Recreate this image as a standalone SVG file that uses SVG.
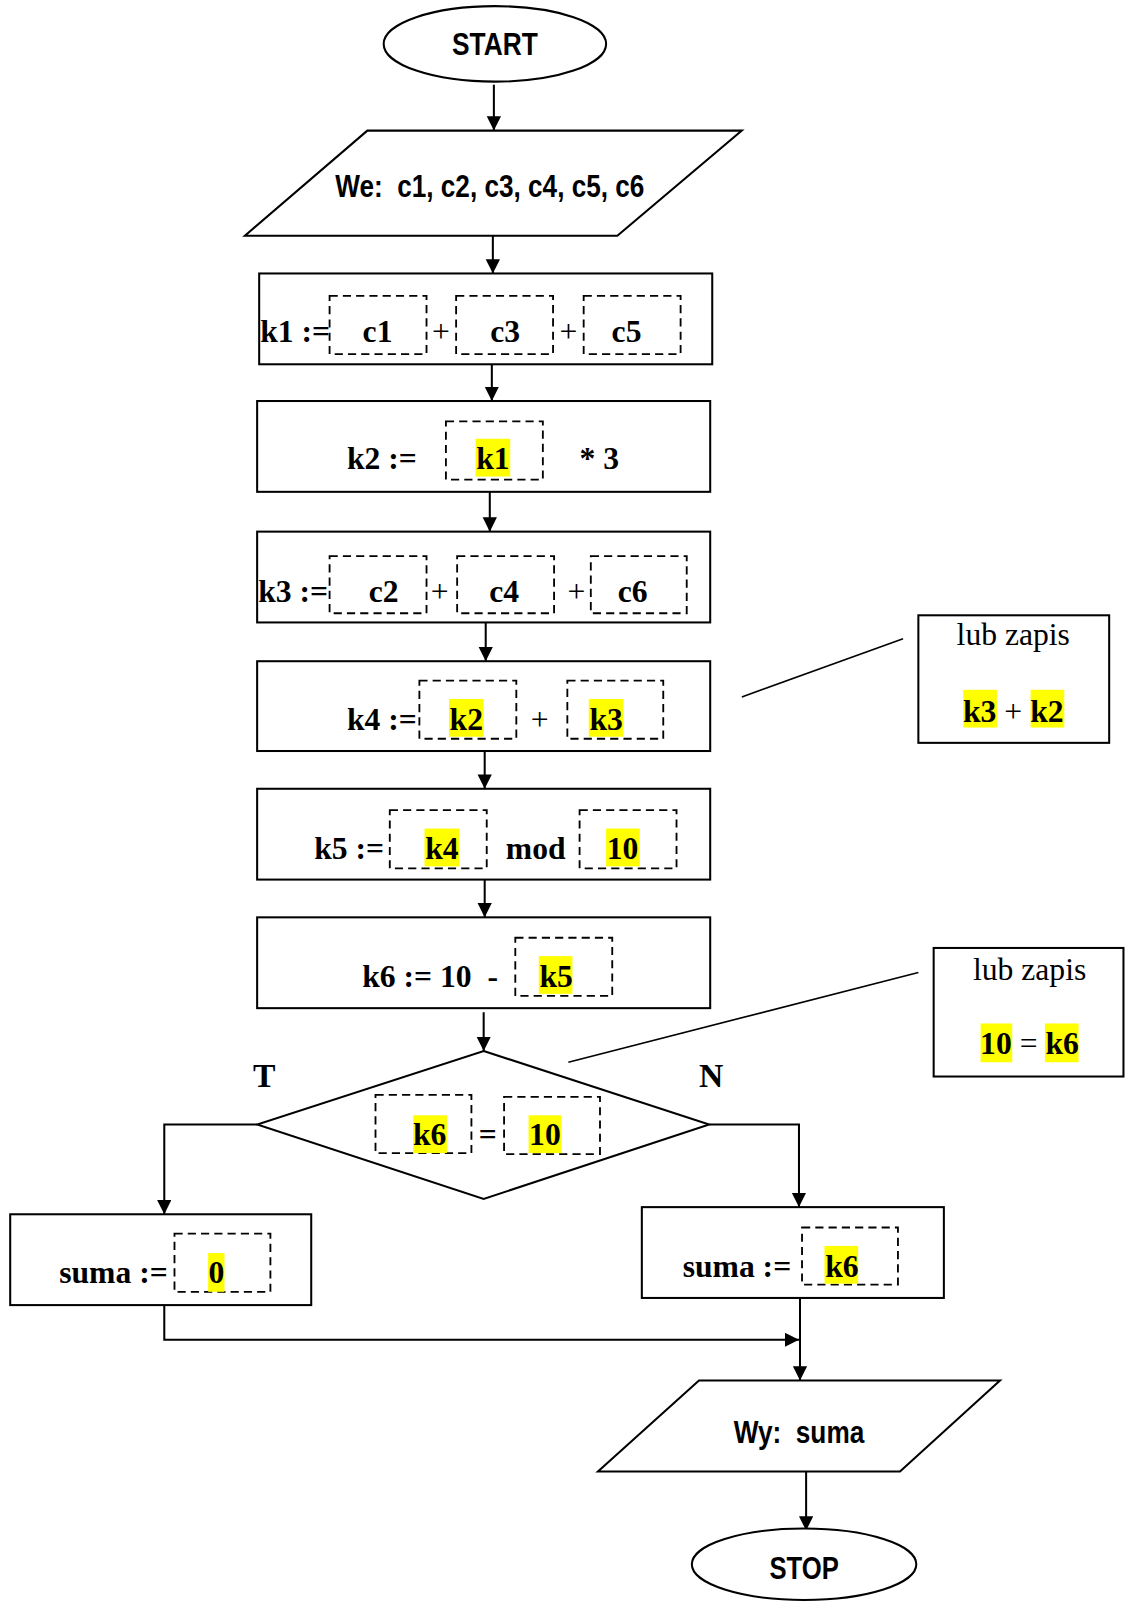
<svg xmlns="http://www.w3.org/2000/svg" width="1125" height="1602" viewBox="0 0 1125 1602">
<style>
.box{fill:#fff;stroke:#000;stroke-width:2}
.dash{fill:none;stroke:#000;stroke-width:1.8;stroke-dasharray:8,5}
.hl{fill:#ffff00}
.t{font-family:"Liberation Serif","Times New Roman",serif;font-weight:bold;font-size:31px;fill:#000}
.r{font-family:"Liberation Serif","Times New Roman",serif;font-size:31px;fill:#000}
.a{font-family:"Liberation Sans Narrow","Arial Narrow","Liberation Sans",sans-serif;font-weight:bold;font-size:30px;fill:#000}
.c{fill:none;stroke:#000;stroke-width:2}
.ln{fill:none;stroke:#000;stroke-width:1.6}
</style>
<defs>
<marker id="ar" markerUnits="userSpaceOnUse" markerWidth="14" markerHeight="16" refX="14" refY="7" orient="auto">
<path d="M0,0 L14,7 L0,14 Z" fill="#000"/>
</marker>
</defs>
<rect width="1125" height="1602" fill="#fff"/>
<g transform="scale(1.0204)">

<g id="connectors">
<line class="c" x1="484" y1="83" x2="484" y2="128" marker-end="url(#ar)"/>
<line class="c" x1="483" y1="231" x2="483" y2="268" marker-end="url(#ar)"/>
<line class="c" x1="482" y1="357" x2="482" y2="393" marker-end="url(#ar)"/>
<line class="c" x1="480" y1="482" x2="480" y2="521" marker-end="url(#ar)"/>
<line class="c" x1="476" y1="610" x2="476" y2="648" marker-end="url(#ar)"/>
<line class="c" x1="475" y1="736" x2="475" y2="773" marker-end="url(#ar)"/>
<line class="c" x1="475" y1="862" x2="475" y2="899" marker-end="url(#ar)"/>
<line class="c" x1="474" y1="992" x2="474" y2="1030" marker-end="url(#ar)"/>
<polyline class="c" points="252,1102 161,1102 161,1190" marker-end="url(#ar)"/>
<polyline class="c" points="695,1102 783,1102 783,1183" marker-end="url(#ar)"/>
<polyline class="c" points="161,1279 161,1313 783,1313" marker-end="url(#ar)"/>
<line class="c" x1="784" y1="1272" x2="784" y2="1353" marker-end="url(#ar)"/>
<line class="c" x1="790" y1="1442" x2="790" y2="1500" marker-end="url(#ar)"/>
<line class="ln" x1="727" y1="683" x2="885" y2="626"/>
<line class="ln" x1="557" y1="1041" x2="900" y2="953"/>
</g>

<g id="start">
<ellipse class="box" cx="485" cy="43" rx="109" ry="37"/>
<text class="a" x="485" y="54" text-anchor="middle" textLength="84" lengthAdjust="spacingAndGlyphs">START</text>
</g>

<g id="input">
<polygon class="box" points="360,128 727,128 605,231 240,231"/>
<text class="a" x="480" y="193" text-anchor="middle" xml:space="preserve" textLength="303" lengthAdjust="spacingAndGlyphs">We:  c1, c2, c3, c4, c5, c6</text>
</g>

<g id="k1">
<rect class="box" x="254" y="268" width="444" height="89"/>
<rect class="dash" x="323" y="290" width="95" height="57"/>
<rect class="dash" x="447" y="290" width="95" height="57"/>
<rect class="dash" x="572" y="290" width="95" height="57"/>
<text class="t" x="255" y="335">k1 :=</text>
<text class="t" x="370" y="335" text-anchor="middle">c1</text>
<text class="r" x="432" y="335" text-anchor="middle">+</text>
<text class="t" x="495" y="335" text-anchor="middle">c3</text>
<text class="r" x="557" y="335" text-anchor="middle">+</text>
<text class="t" x="614" y="335" text-anchor="middle">c5</text>
</g>

<g id="k2">
<rect class="box" x="252" y="393" width="444" height="89"/>
<rect class="dash" x="437" y="413" width="95" height="57"/>
<text class="t" x="340" y="460">k2 :=</text>
<rect class="hl" x="466" y="430" width="34" height="37"/>
<text class="t" x="483" y="460" text-anchor="middle">k1</text>
<text class="t" x="568" y="460">* 3</text>
</g>

<g id="k3">
<rect class="box" x="252" y="521" width="444" height="89"/>
<rect class="dash" x="323" y="545" width="95" height="56"/>
<rect class="dash" x="448" y="545" width="95" height="56"/>
<rect class="dash" x="579" y="545" width="94" height="56"/>
<text class="t" x="253" y="590">k3 :=</text>
<text class="t" x="376" y="590" text-anchor="middle">c2</text>
<text class="r" x="431" y="590" text-anchor="middle">+</text>
<text class="t" x="494" y="590" text-anchor="middle">c4</text>
<text class="r" x="565" y="590" text-anchor="middle">+</text>
<text class="t" x="620" y="590" text-anchor="middle">c6</text>
</g>

<g id="k4">
<rect class="box" x="252" y="648" width="444" height="88"/>
<rect class="dash" x="411" y="667" width="95" height="57"/>
<rect class="dash" x="556" y="667" width="94" height="57"/>
<text class="t" x="340" y="715">k4 :=</text>
<rect class="hl" x="440" y="685" width="34" height="37"/>
<text class="t" x="457" y="715" text-anchor="middle">k2</text>
<text class="r" x="529" y="715" text-anchor="middle">+</text>
<rect class="hl" x="577" y="685" width="34" height="37"/>
<text class="t" x="594" y="715" text-anchor="middle">k3</text>
</g>

<g id="note1">
<rect class="box" x="900" y="603" width="187" height="125"/>
<text class="r" x="993" y="632" text-anchor="middle">lub zapis</text>
<rect class="hl" x="944" y="676" width="33" height="37"/>
<text class="t" x="960" y="708" text-anchor="middle">k3</text>
<text class="r" x="993" y="708" text-anchor="middle">+</text>
<rect class="hl" x="1010" y="676" width="33" height="37"/>
<text class="t" x="1026" y="708" text-anchor="middle">k2</text>
</g>

<g id="k5">
<rect class="box" x="252" y="773" width="444" height="89"/>
<rect class="dash" x="382" y="794" width="95" height="57"/>
<rect class="dash" x="568" y="794" width="95" height="57"/>
<text class="t" x="308" y="842">k5 :=</text>
<rect class="hl" x="416" y="812" width="34" height="37"/>
<text class="t" x="433" y="842" text-anchor="middle">k4</text>
<text class="t" x="525" y="842" text-anchor="middle">mod</text>
<rect class="hl" x="594" y="812" width="33" height="37"/>
<text class="t" x="610" y="842" text-anchor="middle">10</text>
</g>

<g id="k6">
<rect class="box" x="252" y="899" width="444" height="89"/>
<rect class="dash" x="505" y="919" width="95" height="57"/>
<text class="t" x="355" y="967" xml:space="preserve">k6 := 10  -</text>
<rect class="hl" x="528" y="937" width="33" height="37"/>
<text class="t" x="545" y="967" text-anchor="middle">k5</text>
</g>

<g id="decision">
<polygon class="box" points="474,1030 695,1102 474,1175 252,1102"/>
<rect class="dash" x="368" y="1073" width="94" height="57"/>
<rect class="dash" x="494" y="1075" width="94" height="56"/>
<rect class="hl" x="405" y="1093" width="33" height="37"/>
<text class="t" x="421" y="1122" text-anchor="middle">k6</text>
<text class="t" x="478" y="1122" text-anchor="middle" fill="#333">=</text>
<rect class="hl" x="518" y="1093" width="32" height="37"/>
<text class="t" x="534" y="1122" text-anchor="middle">10</text>
<text class="t" x="259" y="1065" text-anchor="middle" style="font-size:33px">T</text>
<text class="t" x="697" y="1065" text-anchor="middle" style="font-size:33px">N</text>
</g>

<g id="note2">
<rect class="box" x="915" y="929" width="186" height="126"/>
<text class="r" x="1009" y="960" text-anchor="middle">lub zapis</text>
<rect class="hl" x="961" y="1003" width="31" height="38"/>
<text class="t" x="976" y="1033" text-anchor="middle">10</text>
<text class="r" x="1008" y="1033" text-anchor="middle">=</text>
<rect class="hl" x="1024" y="1003" width="33" height="38"/>
<text class="t" x="1041" y="1033" text-anchor="middle">k6</text>
</g>

<g id="suma0">
<rect class="box" x="10" y="1190" width="295" height="89"/>
<rect class="dash" x="171" y="1209" width="94" height="57"/>
<text class="t" x="58" y="1257">suma :=</text>
<rect class="hl" x="204" y="1228" width="16" height="38"/>
<text class="t" x="212" y="1257" text-anchor="middle">0</text>
</g>

<g id="sumak6">
<rect class="box" x="629" y="1183" width="296" height="89"/>
<rect class="dash" x="786" y="1203" width="94" height="56"/>
<text class="t" x="669" y="1251">suma :=</text>
<rect class="hl" x="808" y="1221" width="33" height="37"/>
<text class="t" x="825" y="1251" text-anchor="middle">k6</text>
</g>

<g id="output">
<polygon class="box" points="685,1353 980,1353 882,1442 586,1442"/>
<text class="a" x="783" y="1414" text-anchor="middle" xml:space="preserve" textLength="128" lengthAdjust="spacingAndGlyphs">Wy:  suma</text>
</g>

<g id="stop">
<ellipse class="box" cx="788" cy="1533" rx="110" ry="35"/>
<text class="a" x="788" y="1547" text-anchor="middle" textLength="68" lengthAdjust="spacingAndGlyphs">STOP</text>
</g>
</g>
</svg>
